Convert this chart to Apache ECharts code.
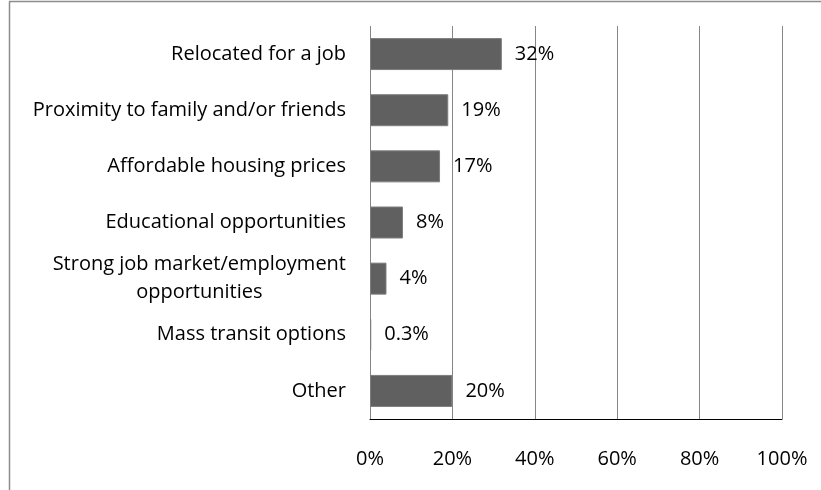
<!DOCTYPE html>
<html>
<head>
<meta charset="utf-8">
<script src="https://cdn.jsdelivr.net/npm/echarts@6/dist/echarts.min.js"></script>
<style>
  html, body { margin: 0; padding: 0; background: #fff; }
  #chart { width: 821px; height: 490px; }
</style>
</head>
<body>
<div id="chart"></div>
<script>
// Reasons for moving to the area (share of respondents)
const categories = [
  'Relocated for a job',
  'Proximity to family and/or friends',
  'Affordable housing prices',
  'Educational opportunities',
  'Strong job market/employment\nopportunities',
  'Mass transit options',
  'Other'
];
const values = [32, 19, 17, 8, 4, 0.3, 20];
const valueLabels = ['32%', '19%', '17%', '8%', '4%', '0.3%', '20%'];
const xTicks = [0, 20, 40, 60, 80, 100];

const FONT = 'Open Sans';
const SIZE = 20;
const chart = echarts.init(document.getElementById('chart'), null, { renderer: 'canvas' });

chart.setOption({
  animation: false,
  backgroundColor: '#ffffff',
  graphic: [
    { type: 'line', shape: { x1: 9.5, y1: 1.5, x2: 9.5, y2: 490 }, style: { stroke: '#8c8c8c', lineWidth: 1.5 } },
    { type: 'line', shape: { x1: 9, y1: 1.5, x2: 821, y2: 1.5 }, style: { stroke: '#8c8c8c', lineWidth: 1.5 } }
  ],
  grid: { left: 370, right: 39, top: 26, bottom: 71, containLabel: false },
  xAxis: {
    type: 'value',
    min: xTicks[0],
    max: xTicks[xTicks.length - 1],
    interval: xTicks[1] - xTicks[0],
    axisLine: { show: true, lineStyle: { color: '#000', width: 1 } },
    axisTick: { show: false },
    splitLine: { show: true, lineStyle: { color: '#868686', width: 1 } },
    axisLabel: {
      formatter: '{value}%',
      margin: 30,
      color: '#000',
      fontFamily: FONT,
      fontSize: SIZE
    }
  },
  yAxis: {
    type: 'category',
    data: categories,
    inverse: true,
    axisLine: { show: false },
    axisTick: { show: false },
    axisLabel: {
      margin: 24,
      color: '#000',
      fontFamily: FONT,
      fontSize: SIZE,
      lineHeight: 28,
      formatter: function (v) {
        return v.indexOf('\n') >= 0 ? '{c|' + v + '}' : v;
      },
      rich: {
        c: { align: 'center', fontFamily: FONT, fontSize: SIZE, lineHeight: 28, color: '#000' }
      }
    }
  },
  series: [{
    type: 'bar',
    data: values,
    barWidth: 32,
    itemStyle: { color: '#606060', borderColor: '#7e7e7e', borderWidth: 1 },
    label: {
      show: true,
      position: 'right',
      distance: 13,
      color: '#000',
      fontFamily: FONT,
      fontSize: SIZE,
      formatter: function (p) { return valueLabels[p.dataIndex]; }
    }
  }]
});
</script>
</body>
</html>
